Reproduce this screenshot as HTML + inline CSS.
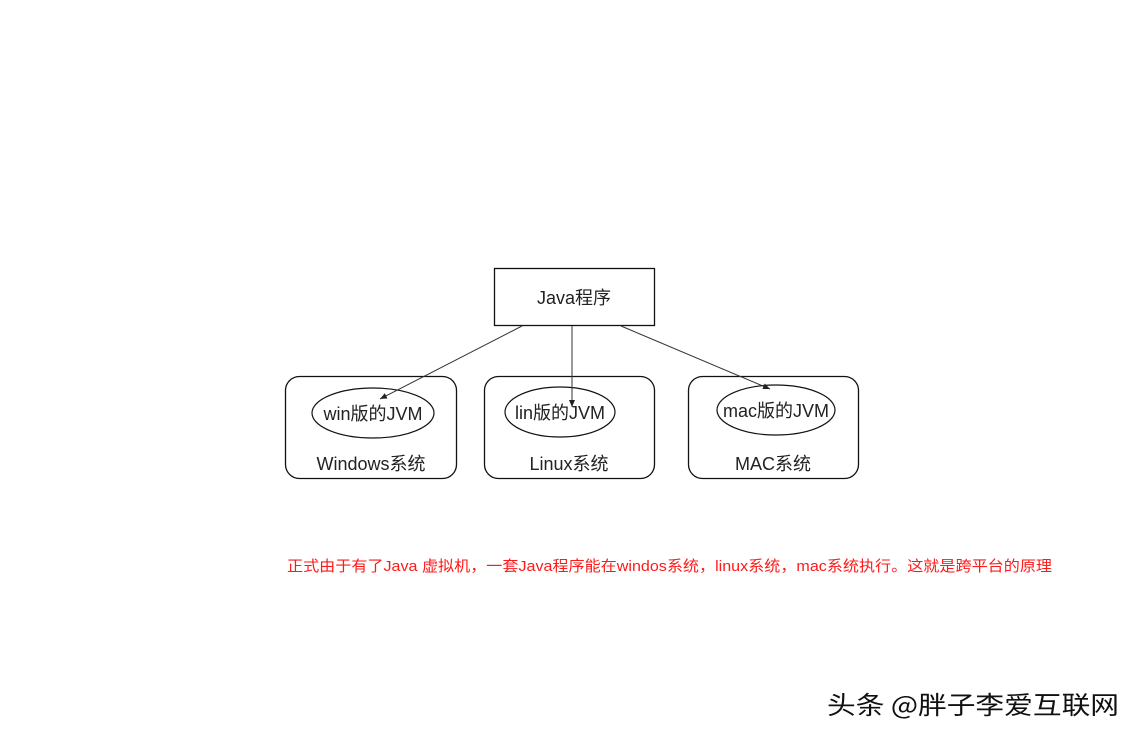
<!DOCTYPE html>
<html><head><meta charset="utf-8"><style>
html,body{margin:0;padding:0;background:#fff;width:1143px;height:740px;overflow:hidden}
</style></head><body>
<svg width="1143" height="740" xmlns="http://www.w3.org/2000/svg" style="position:absolute;left:0;top:0">
<defs><marker id="a" markerWidth="8" markerHeight="8" refX="7" refY="4" orient="auto" markerUnits="userSpaceOnUse"><path d="M0,1 L7,4 L0,7 z" fill="#222"/></marker></defs>
<g font-family="Liberation Sans, Noto Sans CJK SC, sans-serif" fill="#222">
<rect x="494.5" y="268.5" width="160" height="57" fill="none" stroke="#111" stroke-width="1.3"/>
<text x="574" y="304" font-size="18" text-anchor="middle">Java程序</text>
<rect x="285.5" y="376.5" width="171" height="102" rx="14" fill="none" stroke="#111" stroke-width="1.3"/>
<rect x="484.5" y="376.5" width="170" height="102" rx="14" fill="none" stroke="#111" stroke-width="1.3"/>
<rect x="688.5" y="376.5" width="170" height="102" rx="14" fill="none" stroke="#111" stroke-width="1.3"/>
<ellipse cx="373" cy="413" rx="61" ry="25" fill="none" stroke="#111" stroke-width="1.2"/>
<ellipse cx="560" cy="412" rx="55" ry="25" fill="none" stroke="#111" stroke-width="1.2"/>
<ellipse cx="776" cy="410" rx="59" ry="25" fill="none" stroke="#111" stroke-width="1.2"/>
<text x="373" y="420" font-size="18" text-anchor="middle">win版的JVM</text>
<text x="560" y="419" font-size="18" text-anchor="middle">lin版的JVM</text>
<text x="776" y="417" font-size="18" text-anchor="middle">mac版的JVM</text>
<text x="371" y="470" font-size="18" text-anchor="middle">Windows系统</text>
<text x="569" y="470" font-size="18" text-anchor="middle">Linux系统</text>
<text x="773" y="470" font-size="18" text-anchor="middle">MAC系统</text>
<line x1="522" y1="326" x2="380" y2="399" stroke="#333" stroke-width="1" marker-end="url(#a)"/>
<line x1="572" y1="326" x2="572" y2="407" stroke="#333" stroke-width="1" marker-end="url(#a)"/>
<line x1="621" y1="326" x2="770" y2="389" stroke="#333" stroke-width="1" marker-end="url(#a)"/>
</g>
<text x="287" y="571" font-size="14.6" fill="#ff1a1a" font-family="Liberation Sans, Noto Sans CJK SC, sans-serif" textLength="765" lengthAdjust="spacingAndGlyphs">正式由于有了Java 虚拟机，一套Java程序能在windos系统，linux系统，mac系统执行。这就是跨平台的原理</text>
<text x="827" y="714" font-size="25" fill="#111" font-family="Noto Sans CJK SC, sans-serif" textLength="292" lengthAdjust="spacingAndGlyphs">头条 @胖子李爱互联网</text>
</svg>
</body></html>
